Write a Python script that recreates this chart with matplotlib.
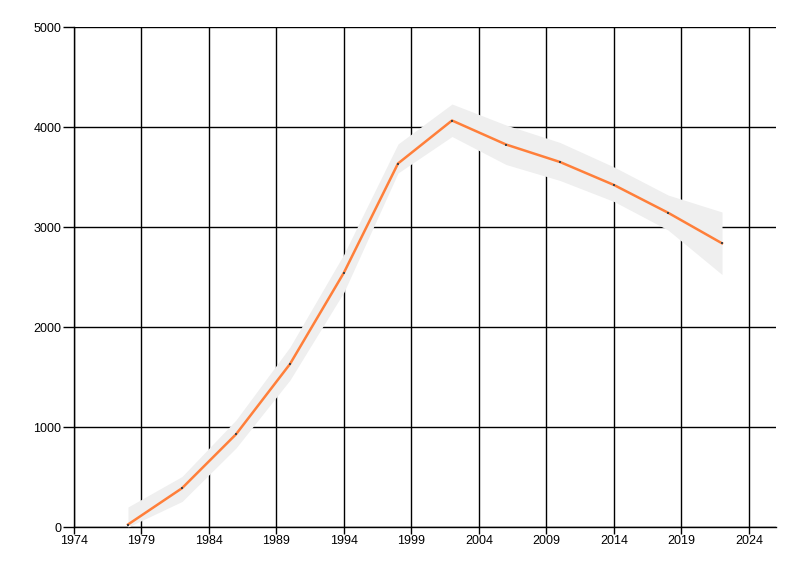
import matplotlib
matplotlib.use("Agg")
import matplotlib.pyplot as plt

plt.rcParams['font.family'] = ['Liberation Sans', 'DejaVu Sans']

# data
years = [1978, 1982, 1986, 1990, 1994, 1998, 2002, 2006, 2010, 2014, 2018, 2022]
values = [25, 388, 927, 1630, 2545, 3635, 4065, 3825, 3650, 3420, 3143, 2837]
upper = [200, 505, 1070, 1800, 2730, 3830, 4230, 4020, 3845, 3600, 3320, 3150]
lower = [0, 255, 790, 1470, 2350, 3540, 3905, 3625, 3465, 3255, 2970, 2525]

xticks = list(range(1974, 2025, 5))
yticks = [0, 1000, 2000, 3000, 4000, 5000]

fig = plt.figure(figsize=(8, 5.76), dpi=100)
ax = fig.add_axes([74/800, 49/576, 702/800, 500/576])

ax.fill_between(years, lower, upper, color='#efefef', lw=0, zorder=3)
ax.plot(years, values, color='#ff7f3a', lw=1.8, zorder=4)
ax.plot(years, values, ls='none', marker='s', ms=1.6, mew=0, color='#444444', zorder=5)

ax.set_xlim(1974, 2026)
ax.set_ylim(0, 5000)
ax.set_xticks(xticks)
ax.set_yticks(yticks)
ax.grid(True, color='black', lw=1, zorder=1)
ax.set_axisbelow(True)

for s in ['top', 'right']:
    ax.spines[s].set_visible(False)
for s in ['left', 'bottom']:
    ax.spines[s].set_color('black')
    ax.spines[s].set_linewidth(1)

ax.tick_params(axis='y', length=8, width=1, labelsize=9, pad=1)
ax.tick_params(axis='x', length=5, width=1, labelsize=9, pad=1)

fig.savefig('out.png', dpi=100)
